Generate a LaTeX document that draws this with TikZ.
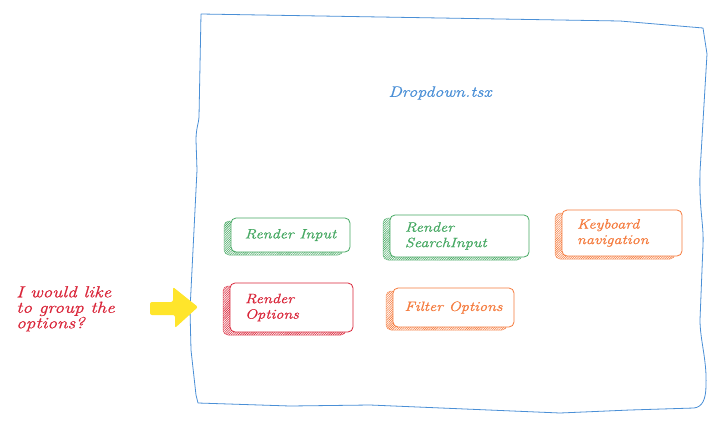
\documentclass[tikz,border=0pt]{standalone}
\usepackage{fontspec}
\setmainfont{Latin Modern Roman}[FakeStretch=1.2,FakeBold=0.7]
\usetikzlibrary{shadows,patterns.meta}
\definecolor{cgreen}{HTML}{45A862}
\definecolor{corange}{HTML}{F57A3C}
\definecolor{cred}{HTML}{D92539}
\definecolor{cblue}{HTML}{4A8FD6}
\definecolor{cyellow}{HTML}{FFE52B}
\tikzset{
  hand/.style={font=\fontsize{13.5}{15.5}\selectfont\itshape},
  boxc/.style={hand, draw=#1, text=#1, fill=white, rounded corners=5pt, line width=0.8pt,
    general shadow={shadow xshift=-7pt, shadow yshift=-3pt, draw=#1!80, line width=0.5pt,
      pattern={Lines[angle=45,distance=1.6pt,line width=0.6pt]}, pattern color=#1}},
  boxl/.style n args={4}{boxc=#1, minimum height=#3, text width=#2-30pt, inner xsep=15pt, align=left},
  boxm/.style n args={3}{boxc=#1, minimum width=#2, minimum height=#3, inner xsep=4pt, align=center},
  frame/.style={draw=cblue, line width=0.8pt, line join=round},
}
\begin{document}
\begin{tikzpicture}[x=1pt,y=-1pt]
\useasboundingbox (0,0) rectangle (723,426);
\draw[frame] (201,14) -- (620,21) -- (703,28) -- (707,54) -- (700,172)
  .. controls (699,210) and (704,225) .. (703,245) -- (700,320)
  .. controls (700,340) and (707,360) .. (706,385)
  .. controls (706,400) and (702,407) .. (694,408) -- (630,410) -- (560,413) -- (370,405)
  -- (290,406) -- (198,403) -- (196,395) -- (191,350) -- (190,310) -- (197,170) -- (196,140)
  .. controls (196,128) and (199,122) .. (199,117) -- cycle;
\node[hand, text=cblue, font=\fontsize{15}{17}\selectfont\itshape] (title) at (440,93) {Dropdown.tsx};
\node[boxm={cgreen}{119pt}{34pt}] (input) at (290.5,235) {Render Input};
\node[boxl={cgreen}{139pt}{42pt}{}] (search) at (459.5,236) {Render\\SearchInput};
\node[boxl={corange}{120pt}{46pt}{}] (keys) at (622,233) {Keyboard\\navigation};
\node[boxl={cred}{123pt}{49pt}{}] (opts) at (291.5,307.5) {Render\\Options};
\node[boxm={corange}{121pt}{39pt}] (filter) at (453.5,307.5) {Filter Options};
\node[text=cred, font=\fontsize{16}{15.5}\selectfont\itshape, anchor=north west, align=left, inner sep=0pt] (note) at (16,286) {I would like\\to group the\\options?};
\fill[cyellow, rounded corners=2pt] (150,302) -- (173,302) -- (173,287) -- (198,307)
  -- (175,328) -- (175,315) -- (150,315) -- cycle;
\end{tikzpicture}
\end{document}
